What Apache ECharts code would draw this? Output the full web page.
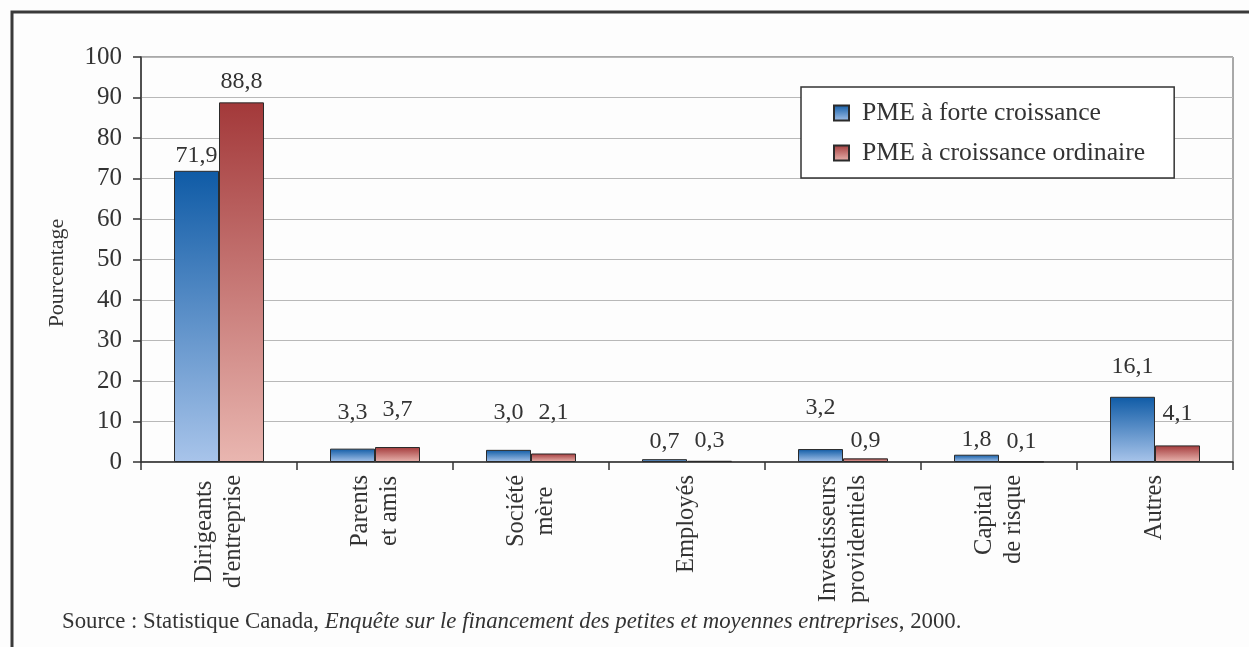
<!DOCTYPE html>
<html>
<head>
<meta charset="utf-8">
<script src="https://cdn.jsdelivr.net/npm/echarts@6/dist/echarts.min.js"></script>
<style>
  html, body { margin: 0; padding: 0; background: #fdfdfd; }
  #chart { width: 1249px; height: 647px; }
</style>
</head>
<body>
<div id="chart"></div>
<script>
// data
var categories = [
  'Dirigeants\nd\'entreprise',
  'Parents\net amis',
  'Société\nmère',
  'Employés',
  'Investisseurs\nprovidentiels',
  'Capital\nde risque',
  'Autres'
]
var seriesNames = ['PME à forte croissance', 'PME à croissance ordinaire']
var forteValues = [71.9, 3.3, 3.0, 0.7, 3.2, 1.8, 16.1]
var ordinaireValues = [88.8, 3.7, 2.1, 0.3, 0.9, 0.1, 4.1]
var yTicks = [0, 10, 20, 30, 40, 50, 60, 70, 80, 90, 100]

// extra lift of the value labels (px), as placed in the original
var forteLift = [0, 21, 22, 2, 26, 0, 15]
var ordinaireLift = [6, 22, 26, 5, 3, 5, 17]

var serif = '"Liberation Serif", "DejaVu Serif", serif'
var txt = '#333'

function fmt(v) {
  return v.toFixed(1).replace('.', ',')
}

function grad(top, bottom) {
  return new echarts.graphic.LinearGradient(0, 0, 0, 1, [
    { offset: 0, color: top },
    { offset: 1, color: bottom }
  ])
}

function makeSeries(name, values, lift, colTop, colBottom) {
  return {
    name: name,
    type: 'bar',
    barWidth: 45,
    barGap: '0%',
    itemStyle: {
      color: grad(colTop, colBottom),
      borderColor: '#2b2b2b',
      borderWidth: 1
    },
    label: {
      show: true,
      position: 'top',
      distance: 3,
      fontFamily: serif,
      fontSize: 24,
      color: txt,
      formatter: function (p) { return fmt(p.value) }
    },
    data: values.map(function (v, i) {
      return { value: v, label: { offset: [0, -lift[i]] } }
    })
  }
}

var myChart = echarts.init(document.getElementById('chart'))
var option = {
  backgroundColor: '#fdfdfd',
  animation: false,
  grid: {
    left: 141,
    right: 16,
    top: 57,
    bottom: 185,
    show: true,
    borderColor: '#555',
    borderWidth: 1
  },
  legend: {
    orient: 'vertical',
    left: 801,
    top: 87,
    padding: [13, 29, 12, 32],
    itemGap: 14,
    itemWidth: 15,
    itemHeight: 15,
    icon: 'rect',
    borderColor: '#333',
    borderWidth: 1.5,
    backgroundColor: '#fff',
    textStyle: {
      fontFamily: serif,
      fontSize: 25.7,
      color: txt,
      padding: [0, 0, 0, 8]
    },
    data: seriesNames
  },
  xAxis: {
    type: 'category',
    data: categories,
    axisLine: { lineStyle: { color: '#333', width: 1.5 } },
    axisTick: { show: true, length: 8, lineStyle: { color: '#333', width: 1.5 } },
    axisLabel: {
      rotate: 90,
      margin: 13,
      interval: 0,
      color: txt,
      formatter: function (v) {
        return v.split('\n').map(function (l) { return '{c|' + l + '}' }).join('\n')
      },
      rich: {
        c: { fontFamily: serif, fontSize: 24.5, color: txt, align: 'center', lineHeight: 29 }
      }
    }
  },
  yAxis: {
    type: 'value',
    min: yTicks[0],
    max: yTicks[yTicks.length - 1],
    interval: 10,
    axisLine: { show: true, lineStyle: { color: '#333', width: 1.5 } },
    axisTick: { show: true, length: 8, lineStyle: { color: '#333', width: 1.5 } },
    axisLabel: { fontFamily: serif, fontSize: 25, color: txt, margin: 19 },
    splitLine: { lineStyle: { color: '#b8b8b8', width: 1 } }
  },
  series: [
    makeSeries(seriesNames[0], forteValues, forteLift, '#0f5ba6', '#a8c4ea'),
    makeSeries(seriesNames[1], ordinaireValues, ordinaireLift, '#a3393a', '#e9b6b0')
  ],
  graphic: [
    {
      type: 'polyline',
      shape: { points: [[12, 647], [12, 12], [1249, 12]] },
      style: { stroke: '#3a3a3a', lineWidth: 3, fill: null }
    },
    {
      type: 'text',
      x: 57,
      y: 273,
      rotation: Math.PI / 2,
      style: {
        text: 'Pourcentage',
        fontFamily: serif,
        fontSize: 22,
        fill: txt,
        align: 'center',
        verticalAlign: 'middle'
      }
    },
    {
      type: 'text',
      left: 62,
      top: 611,
      style: {
        text: '{n|Source : Statistique Canada, }{i|Enquête sur le financement des petites et moyennes entreprises}{n|, 2000.}',
        rich: {
          n: { fontFamily: serif, fontSize: 22.8, fill: txt },
          i: { fontFamily: serif, fontSize: 22.8, fontStyle: 'italic', fill: txt }
        }
      }
    }
  ]
}
option && myChart.setOption(option)
</script>
</body>
</html>
